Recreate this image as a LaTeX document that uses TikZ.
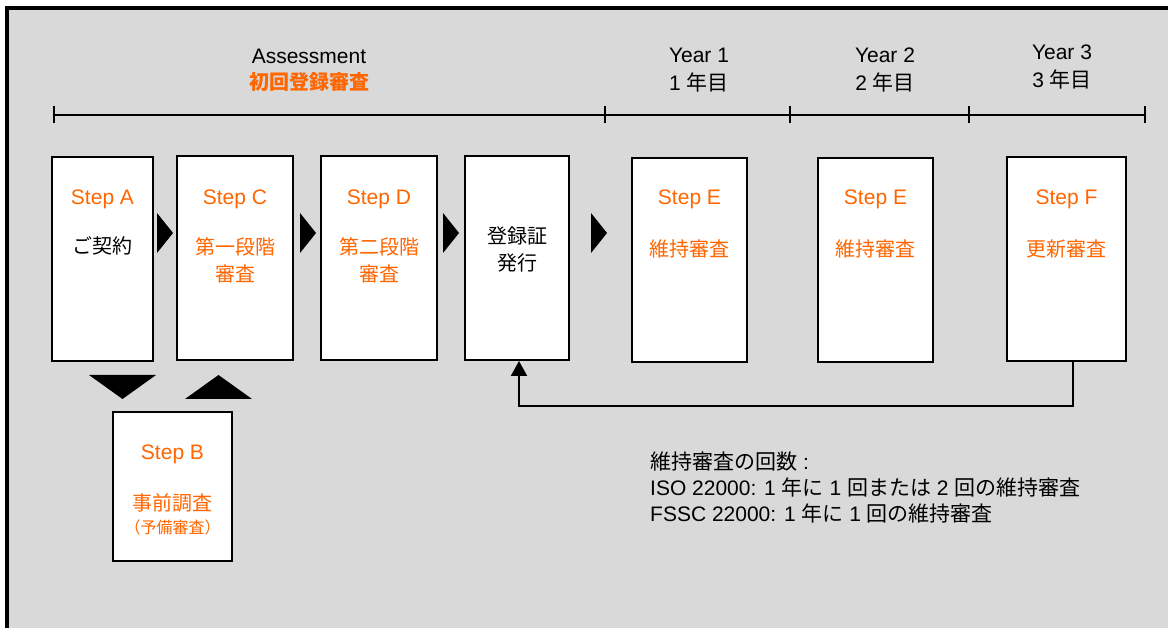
\documentclass[tikz,border=0pt]{standalone}
\usepackage{fontspec}
\setmainfont{Liberation Sans}
\newfontfamily\jpfont{Noto Sans CJK JP}
\newcommand\jp[1]{{\jpfont #1}}
\usetikzlibrary{arrows.meta}
\definecolor{panel}{RGB}{217,217,217}
\definecolor{stepc}{RGB}{255,102,0}

\begin{document}
\begin{tikzpicture}[
          x=1pt, y=-1pt,
          every node/.style={inner sep=0pt, font=\fontsize{21}{25}\selectfont},
          box/.style={draw, fill=white, line width=2pt, minimum height=204pt},
          steptext/.style={text=stepc},
          jptext/.style={font=\fontsize{20}{27}\selectfont\jpfont, align=center},
          marker/.style={fill=black},
          axis/.style={line width=2pt},
          >={Triangle[width=16pt,length=15pt]}
        ]
        \clip (0,0) rectangle (1168,628);
        \fill[white] (0,0) rectangle (1168,628);
        % frame
        \fill[panel] (7,8) rectangle (1200,660);
        \draw[line width=4pt] (7,660) -- (7,8) -- (1200,8);

        % time line
        \foreach \x [count=\i] in {54,605,790,969,1145}
          \coordinate (t\i) at (\x,115);
        \draw[axis] (t1) -- (t5);
        \foreach \i in {1,...,5}
          \draw[axis] ([yshift=9pt]t\i) -- ([yshift=-8pt]t\i);
        \node (assess) at (309,56) {Assessment};
        \node[text=stepc, font=\fontsize{20}{25}\selectfont\jpfont\bfseries] (assessjp) at (309,82) {初回登録審査};
        \node (year1) at (699,55) {Year 1};
        \node (year1jp) at (699,82) {1 \jp{年目}};
        \node (year2) at (885,55) {Year 2};
        \node (year2jp) at (885,82) {2 \jp{年目}};
        \node (year3) at (1062,52) {Year 3};
        \node (year3jp) at (1062,79) {3 \jp{年目}};

        % A
        \node[box, minimum width=101pt] (stepA) at (102.5,259) {};
        \node[steptext] (labA) at ([yshift=-43pt]stepA.north) {Step A};
        \node[jptext] (jpA) at ([yshift=-90pt]stepA.north) {ご契約};
        % C
        \node[box, minimum width=116pt] (stepC) at (235,258.5) {};
        \node[steptext] (labC) at ([yshift=-44pt]stepC.north) {Step C};
        \node[jptext, text=stepc] (jpC) at ([yshift=-105pt]stepC.north) {第一段階\\審査};
        % D
        \node[box, minimum width=116pt] (stepD) at (379,258.5) {};
        \node[steptext] (labD) at ([yshift=-44pt]stepD.north) {Step D};
        \node[jptext, text=stepc] (jpD) at ([yshift=-105pt]stepD.north) {第二段階\\審査};
        % certificate
        \node[box, minimum width=104pt] (cert) at (517,258) {};
        \node[jptext] (jpcert) at ([yshift=-94pt]cert.north) {登録証\\発行};
        % E, year 1
        \node[box, minimum width=115pt] (stepE) at (689.5,260) {};
        \node[steptext] (labE) at ([yshift=-42pt]stepE.north) {Step E};
        \node[jptext, text=stepc] (jpE) at ([yshift=-92pt]stepE.north) {維持審査};
        % E, year 2
        \node[box, minimum width=115pt] (stepEE) at (875.5,260) {};
        \node[steptext] (labEE) at ([yshift=-42pt]stepEE.north) {Step E};
        \node[jptext, text=stepc] (jpEE) at ([yshift=-92pt]stepEE.north) {維持審査};
        % F
        \node[box, minimum width=119pt] (stepF) at (1066.5,259) {};
        \node[steptext] (labF) at ([yshift=-43pt]stepF.north) {Step F};
        \node[jptext, text=stepc] (jpF) at ([yshift=-93pt]stepF.north) {更新審査};
        % B
        \node[box, minimum width=119pt, minimum height=149pt] (stepB) at (172.5,486.5) {};
        \node[steptext] (labB) at ([yshift=-43pt]stepB.north) {Step B};
        \node[jptext, text=stepc] (jpB) at ([yshift=-92pt]stepB.north) {事前調査};
        \node[jptext, text=stepc, font=\fontsize{16}{20}\selectfont\jpfont] (jpBB) at ([yshift=-116pt]stepB.north) {（予備審査）};

        % markers
        \foreach \x in {157,300,443,591}
          \fill[marker] (\x,213) -- (\x+16,233) -- (\x,253) -- cycle;
        \fill[marker] (89,375) -- (156,375) -- (122.5,399) -- cycle;
        \fill[marker] (185,399) -- (252,399) -- (218.5,375) -- cycle;

        % renewal
        \draw[axis, ->] ([xshift=6pt]stepF.south) -- ++(0,44) -| ([xshift=2pt]cert.south);

        \node[anchor=west, align=left, font=\fontsize{21}{26}\selectfont] (note) at (650,488)
          {\jp{維持審査の回数} :\\
           ISO 22000: 1 \jp{年に} 1 \jp{回または} 2 \jp{回の維持審査}\\
           FSSC 22000: 1 \jp{年に} 1 \jp{回の維持審査}};
      \end{tikzpicture}
\end{document}
